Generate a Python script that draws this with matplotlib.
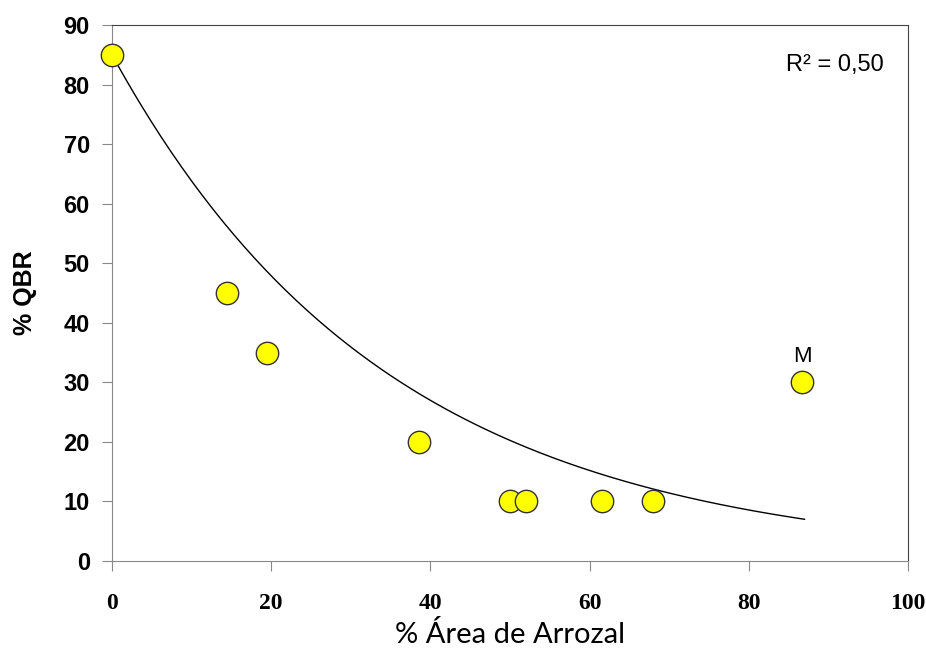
import numpy as np
import matplotlib.pyplot as plt

# datos
area_arrozal = [0, 14.5, 19.5, 38.5, 50, 52, 61.5, 68, 86.7]
qbr = [85, 45, 35, 20, 10, 10, 10, 10, 30]

# ajuste exponencial (linea de tendencia)
fit_a = 85.0
fit_b = 0.0287
fit_xmax = 87
r2_text = 'R² = 0,50'

fig = plt.figure(figsize=(9.26, 6.5), dpi=100)
ax = fig.add_axes([0.121, 0.137, 0.8596, 0.8245])

xx = np.linspace(0, fit_xmax, 200)
ax.plot(xx, fit_a * np.exp(-fit_b * xx), color='black', lw=1.0, zorder=2)
ax.scatter(area_arrozal, qbr, s=260, c='#FFFF00', edgecolors='#333333',
           linewidths=1.0, zorder=3, clip_on=False)

ax.annotate('M', (area_arrozal[-1], qbr[-1]), xytext=(0, 11), textcoords='offset points',
            ha='center', va='bottom', fontsize=16, family='Liberation Sans')

ax.text(0.97, 0.925, r2_text, transform=ax.transAxes, ha='right', va='center',
        fontsize=17, family='Liberation Sans')

ax.set_xlim(0, 100)
ax.set_ylim(0, 90)
ax.set_xticks(range(0, 101, 20))
ax.set_yticks(range(0, 91, 10))

for s in ['left', 'bottom']:
    ax.spines[s].set_color('#888888')
for s in ['top', 'right']:
    ax.spines[s].set_color('#444444')

ax.tick_params(axis='both', direction='out', length=7, color='#888888')
ax.tick_params(axis='y', pad=9)
ax.tick_params(axis='x', pad=16)
for lb in ax.get_yticklabels():
    lb.set_fontfamily('Liberation Sans')
    lb.set_fontweight('bold')
    lb.set_fontsize(17)
for lb in ax.get_xticklabels():
    lb.set_fontfamily('Liberation Serif')
    lb.set_fontweight('bold')
    lb.set_fontsize(17)

ax.set_xlabel('% Área de Arrozal', fontsize=21, family='Lato', labelpad=5)
ax.set_ylabel('% QBR', fontsize=18, family='Liberation Sans', fontweight='bold', labelpad=19)

fig.savefig('out.png', dpi=100)
